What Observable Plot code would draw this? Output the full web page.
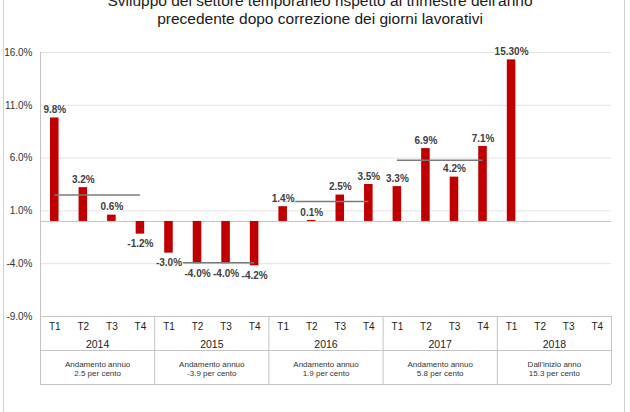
<!DOCTYPE html>
<html>
<head>
<meta charset="utf-8">
<script src="https://cdn.jsdelivr.net/npm/d3@7"></script>
<script src="https://cdn.jsdelivr.net/npm/@observablehq/plot@0.6"></script>
<style>
  html, body { margin: 0; padding: 0; background: #fff; }
  body { width: 630px; height: 412px; overflow: hidden; position: relative; font-family: "Liberation Sans", Arial, sans-serif; }
  #title { position: absolute; left: 0; width: 640px; top: -8px; text-align: center; font-size: 15.5px; line-height: 18px; color: #1a1a1a; z-index: 2; }
  #frame { position: absolute; left: 3px; width: 622px; top: 0; height: 412px; border-left: 1px solid #cfcfcf; border-right: 1px solid #cfcfcf; box-sizing: border-box; pointer-events: none; }
  #chart { position: absolute; left: 0; top: 0; }
</style>
</head>
<body>
<div id="frame"></div>
<div id="chart"></div>
<div id="title">Sviluppo del settore temporaneo rispetto al trimestre dell'anno<br>precedente dopo correzione dei giorni lavorativi</div>
<script>
// ---- data ----
const years = ["2014", "2015", "2016", "2017", "2018"];
const quarters = ["T1", "T2", "T3", "T4"];
const values = [9.8, 3.2, 0.6, -1.2, -3.0, -4.0, -4.0, -4.2, 1.4, 0.1, 2.5, 3.5, 3.3, 6.9, 4.2, 7.1, 15.3, null, null, null];
const valueLabels = ["9.8%", "3.2%", "0.6%", "-1.2%", "-3.0%", "-4.0%", "-4.0%", "-4.2%", "1.4%", "0.1%", "2.5%", "3.5%", "3.3%", "6.9%", "4.2%", "7.1%", "15.30%", null, null, null];
const annualAverage = [2.5, -3.9, 1.9, 5.8, null];
const noteLine1 = ["Andamento annuo", "Andamento annuo", "Andamento annuo", "Andamento annuo", "Dall'inizio anno"];
const noteLine2 = ["2.5 per cento", "-3.9 per cento", "1.9 per cento", "5.8 per cento", "15.3 per cento"];
const yTicks = [-9, -4, 1, 6, 11, 16];

// ---- derived tables ----
const nq = quarters.length;
const cells = [];
years.forEach((y, yi) => quarters.forEach((q, qi) => {
  const i = yi * nq + qi;
  cells.push({i, year: y, q, v: values[i], label: valueLabels[i]});
}));
const bars = cells.filter(d => d.v != null);
const yearRows = years.map((y, yi) => ({
  year: y, first: yi * nq, last: yi * nq + nq - 1, mid: yi * nq + (nq - 1) / 2,
  avg: annualAverage[yi], n1: noteLine1[yi], n2: noteLine2[yi]
}));
const boundaries = [-0.5, ...years.map((y, yi) => yi * nq + nq - 0.5)];

const font = "Liberation Sans, Arial, sans-serif";
const plot = Plot.plot({
  width: 630,
  height: 412,
  marginTop: 52,
  marginBottom: 96,
  marginLeft: 40,
  marginRight: 19,
  style: {fontFamily: font, background: "transparent", overflow: "visible"},
  x: {type: "linear", domain: [-0.5, years.length * nq - 0.5], axis: null},
  y: {domain: [-9, 16], axis: null},
  marks: [
    // gridlines
    Plot.ruleY(yTicks.filter(t => t > -9), {stroke: "#e2e2e2", strokeWidth: 1}),
    // y tick labels
    Plot.text(yTicks, {y: d => d, text: d => d.toFixed(1) + "%", frameAnchor: "left", textAnchor: "end", dx: -8, fontSize: 10, fill: "#333"}),
    // baseline
    Plot.ruleY([0], {stroke: "#c4c4c4", strokeWidth: 1}),
    // bars
    Plot.rectY(bars, {x1: d => d.i - 0.5, x2: d => d.i + 0.5, y: "v", insetLeft: 10, insetRight: 10, fill: "#c00000"}),
    // annual average lines
    Plot.ruleY(yearRows.filter(d => d.avg != null), {y: "avg", x1: "first", x2: "last", stroke: "#7a7a7a", strokeWidth: 1.5}),
    // value labels
    Plot.text(bars.filter(d => d.v >= 0), {x: "i", y: "v", text: "label", dy: -8, fontSize: 10, fontWeight: "bold", fill: "#404040", stroke: "white", strokeWidth: 2}),
    Plot.text(bars.filter(d => d.v < 0), {x: "i", y: "v", text: "label", dy: 10, fontSize: 10, fontWeight: "bold", fill: "#404040", stroke: "white", strokeWidth: 2}),
    // category table
    Plot.ruleY([-9], {stroke: "#c4c4c4"}),
    Plot.ruleY([-9], {stroke: "#c4c4c4", dy: 34}),
    Plot.ruleY([-9], {stroke: "#c4c4c4", dy: 68}),
    Plot.ruleX(boundaries.slice(1), {stroke: "#c4c4c4", insetTop: 264, insetBottom: -68}),
    Plot.ruleX(boundaries.slice(0, 1), {stroke: "#c4c4c4", insetBottom: -68}),
    Plot.text(cells, {x: "i", text: "q", frameAnchor: "bottom", dy: 13, fontSize: 10, fill: "#222"}),
    Plot.text(yearRows, {x: "mid", text: "year", frameAnchor: "bottom", dy: 31, fontSize: 10.5, fill: "#222"}),
    Plot.text(yearRows, {x: "mid", text: "n1", frameAnchor: "bottom", dy: 50.5, fontSize: 8, fill: "#333"}),
    Plot.text(yearRows, {x: "mid", text: "n2", frameAnchor: "bottom", dy: 59.5, fontSize: 8, fill: "#333"})
  ]
});
document.getElementById("chart").appendChild(plot);
</script>
</body>
</html>
